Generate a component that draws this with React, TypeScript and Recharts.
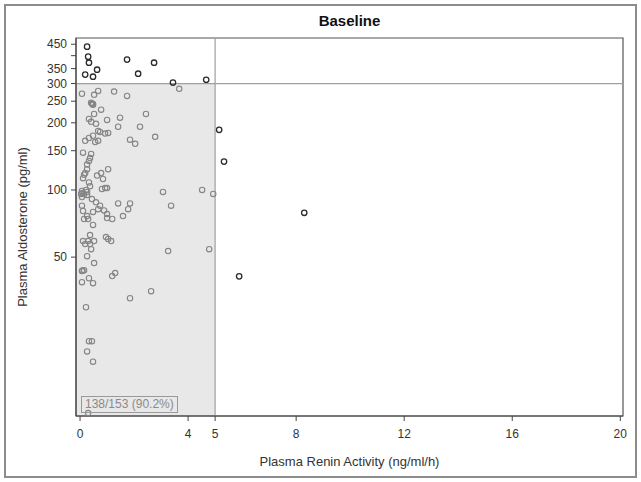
import React from "react"
import {
  ScatterChart,
  Scatter,
  XAxis,
  YAxis,
  ReferenceArea,
  ReferenceLine,
} from "recharts"

// points inside the PRA < 5 / PAC < 300 window
const reninIn = [
  0.07, 0.52, 0.67, 1.26, 1.74, 3.67, 0.41, 0.48, 0.48, 0.44, 0.46, 0.78, 0.52, 0.33,
  0.41, 0.59, 1.0, 1.48, 1.41, 2.22, 2.44, 0.67, 0.74, 0.93, 1.04, 0.48, 0.33, 0.19,
  0.67, 0.56, 1.85, 2.04, 2.78, 0.11, 0.41, 0.37, 0.33, 0.26, 0.26, 0.19, 0.15, 0.11,
  0.63, 0.78, 1.04, 0.85, 0.33, 0.37, 0.81, 0.93, 1.0, 0.07, 0.09, 0.04, 0.15, 0.26,
  0.22, 0.26, 0.07, 0.44, 0.59, 0.74, 0.67, 0.07, 0.11, 0.48, 0.89, 1.0, 1.0, 1.19,
  0.26, 0.15, 0.3, 1.41, 1.85, 1.78, 1.59, 0.48, 3.07, 3.37, 4.52, 4.93, 0.37, 0.11,
  0.3, 0.52, 0.19, 0.37, 0.41, 0.96, 1.04, 1.15, 0.26, 0.52, 0.07, 0.09, 0.15, 0.33,
  1.19, 1.3, 3.26, 4.78, 0.07, 0.48, 1.85, 2.63, 0.22, 0.33, 0.44, 0.26, 0.48, 0.3,
]
const aldoIn = [
  270, 267, 278, 276, 264, 284, 246, 243, 241, 244, 242, 229, 219, 208,
  202, 198, 206, 211, 192, 192, 219, 184, 182, 179, 180, 175, 171, 166,
  166, 164, 168, 161, 173, 147, 145, 139, 135, 130, 124, 119, 117, 113,
  116, 119, 124, 112, 108, 104, 101, 102, 102, 99, 97, 96, 96, 98,
  100, 95, 93, 91, 88, 85, 82, 85, 80.5, 79.7, 81, 78, 74.8, 74.1,
  76.4, 74.1, 74.1, 87, 87, 82, 76.4, 69.7, 98, 85, 100, 96, 62.8, 59,
  59, 59, 57.2, 57.2, 54.3, 61.5, 60.3, 59, 50.5, 47, 43.3, 43.5, 43.7, 40.2,
  41.1, 42.4, 53.2, 54.3, 38.6, 38.2, 32.7, 35.2, 29.8, 21, 21, 18.9, 17, 10,
]

// points outside the window
const reninOut = [0.26, 0.3, 0.33, 0.63, 0.19, 0.48, 1.74, 2.15, 2.74, 3.44, 4.67, 5.15, 5.33, 8.3, 5.89]
const aldoOut = [439, 396, 372, 346, 329, 322, 384, 332, 372, 303, 312, 186, 134, 79, 41]

const xTicks = [0, 4, 5, 8, 12, 16, 20]
const yTicks = [50, 100, 150, 200, 250, 300, 350, 400, 450]
const yUnlabeled = [400]

const X_MIN = -0.15
const X_MAX = 20.1
const Y_MIN = 9.7
const Y_MAX = 480
const PRA_CUT = 5
const PAC_CUT = 300

const insideData = reninIn.map((r, i) => ({ renin: r, aldo: aldoIn[i] }))
const outsideData = reninOut.map((r, i) => ({ renin: r, aldo: aldoOut[i] }))

const font = "'Liberation Sans', Arial, sans-serif"

const ring = (color: string, width: number) => (props: any) =>
  <circle cx={props.cx} cy={props.cy} r={2.7} fill="none" stroke={color} strokeWidth={width} />

const YTick = (props: any) => {
  const { x, y, payload } = props
  if (yUnlabeled.includes(payload.value)) return <g />
  return (
    <text x={x} y={y} dy={4} textAnchor="end" fontSize={12} fill="#333" fontFamily={font}>
      {payload.value}
    </text>
  )
}

export default function App() {
  return (
    <div style={{ position: "absolute", left: 0, top: 0, width: 641, height: 482, background: "#fff", fontFamily: font }}>
      <div
        style={{
          position: "absolute",
          left: 4,
          top: 4,
          width: 629,
          height: 470,
          border: "2px solid #8c8c8c",
        }}
      />
      <div
        style={{
          position: "absolute",
          left: 76,
          width: 547,
          top: 12,
          textAlign: "center",
          fontWeight: "bold",
          fontSize: 15,
          color: "#111",
        }}
      >
        Baseline
      </div>
      <div style={{ position: "absolute", left: 0, top: 0 }}>
        <ScatterChart width={641} height={482} margin={{ top: 38, right: 18, bottom: 6, left: 6 }}>
          <XAxis
            type="number"
            dataKey="renin"
            domain={[X_MIN, X_MAX]}
            ticks={xTicks}
            interval={0}
            allowDataOverflow
            height={60}
            tickSize={5}
            tickMargin={8}
            stroke="#444"
            tick={{ fontSize: 12, fill: "#333", fontFamily: font }}
            label={{
              value: "Plasma Renin Activity (ng/ml/h)",
              position: "insideBottom",
              offset: 10,
              style: { fontSize: 13, fill: "#333", fontFamily: font },
            }}
          />
          <YAxis
            type="number"
            dataKey="aldo"
            scale="log"
            domain={[Y_MIN, Y_MAX]}
            ticks={yTicks}
            interval={0}
            allowDataOverflow
            width={70}
            tickSize={5}
            tickMargin={4}
            stroke="#444"
            tick={<YTick />}
            label={{
              value: "Plasma Aldosterone (pg/ml)",
              angle: -90,
              position: "insideLeft",
              offset: 16,
              style: { fontSize: 13, fill: "#333", fontFamily: font, textAnchor: "middle" },
            }}
          />
          <ReferenceArea
            x1={X_MIN}
            x2={PRA_CUT}
            y1={Y_MIN}
            y2={PAC_CUT}
            fill="#e8e8e8"
            fillOpacity={1}
            stroke="none"
          />
          <ReferenceLine x={PRA_CUT} stroke="#a0a0a0" strokeWidth={1.2} />
          <ReferenceLine y={PAC_CUT} stroke="#a0a0a0" strokeWidth={1.2} />
          <ReferenceArea
            x1={X_MIN}
            x2={X_MAX}
            y1={Y_MIN}
            y2={Y_MAX}
            fill="none"
            stroke="#555"
            strokeWidth={1.2}
          />
          <Scatter data={insideData} shape={ring("#858585", 1.1)} isAnimationActive={false} />
          <Scatter data={outsideData} shape={ring("#2a2a2a", 1.3)} isAnimationActive={false} />
        </ScatterChart>
      </div>
      <div
        style={{
          position: "absolute",
          left: 81,
          top: 396,
          height: 15,
          lineHeight: "15px",
          padding: "0 3px",
          border: "1px solid #999",
          fontSize: 12,
          color: "#8a8a8a",
          background: "transparent",
        }}
      >
        138/153 (90.2%)
      </div>
    </div>
  )
}
